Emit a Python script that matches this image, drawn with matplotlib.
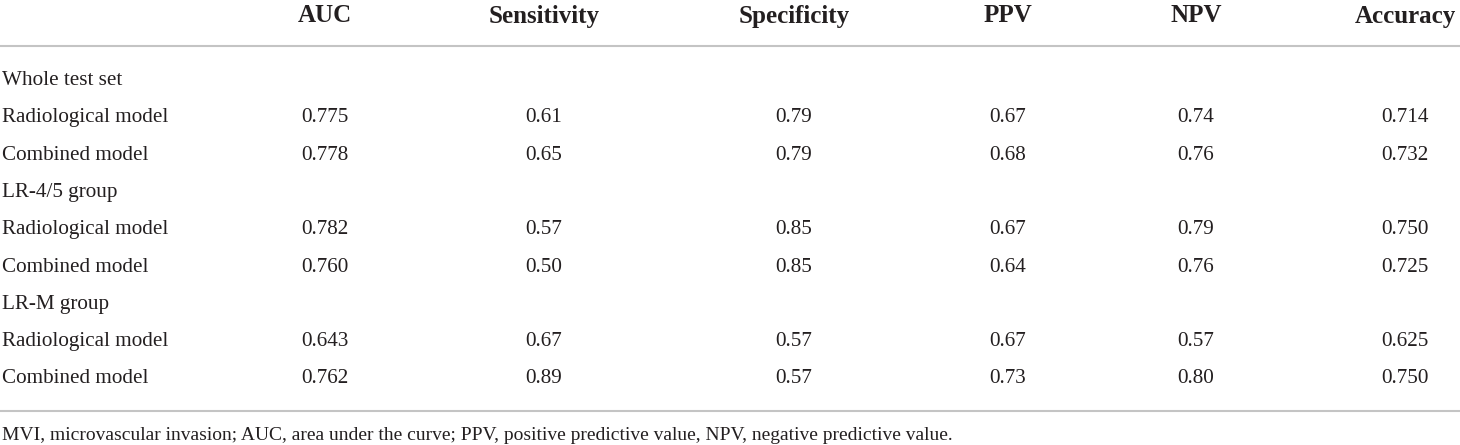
import matplotlib.pyplot as plt

# table content
columns = ["AUC", "Sensitivity", "Specificity", "PPV", "NPV", "Accuracy"]
row_labels = ["Whole test set", "Radiological model", "Combined model",
              "LR-4/5 group", "Radiological model", "Combined model",
              "LR-M group", "Radiological model", "Combined model"]
auc = ["", "0.775", "0.778", "", "0.782", "0.760", "", "0.643", "0.762"]
sensitivity = ["", "0.61", "0.65", "", "0.57", "0.50", "", "0.67", "0.89"]
specificity = ["", "0.79", "0.79", "", "0.85", "0.85", "", "0.57", "0.57"]
ppv = ["", "0.67", "0.68", "", "0.67", "0.64", "", "0.67", "0.73"]
npv = ["", "0.74", "0.76", "", "0.79", "0.76", "", "0.57", "0.80"]
accuracy = ["", "0.714", "0.732", "", "0.750", "0.725", "", "0.625", "0.750"]
footnote = ("MVI, microvascular invasion; AUC, area under the curve; "
            "PPV, positive predictive value, NPV, negative predictive value.")

# layout (pixel units of the 1460x445 canvas)
col_x = [325, 544, 794, 1008, 1196, 1405]
header_y = 13.5
row_y0 = 78
row_step = 37.3
text_color = "#231f20"
line_color = "#c4c4c4"

plt.rcParams["font.family"] = ["Liberation Serif", "DejaVu Serif"]

fig = plt.figure(figsize=(14.6, 4.45), dpi=100)
ax = fig.add_axes([0, 0, 1, 1])
ax.set_xlim(0, 1460)
ax.set_ylim(445, 0)
ax.axis("off")

# header
for x, name in zip(col_x, columns):
    ax.text(x, header_y, name, ha="center", va="center_baseline",
            fontsize=18, fontweight="bold", color=text_color)

ax.axhline(46, color=line_color, lw=1.5)

# body rows
values = [auc, sensitivity, specificity, ppv, npv, accuracy]
for i, label in enumerate(row_labels):
    y = row_y0 + i * row_step
    ax.text(2, y, label, ha="left", va="center_baseline", fontsize=15.2,
            color=text_color)
    for x, col in zip(col_x, values):
        if col[i]:
            ax.text(x, y, col[i], ha="center", va="center_baseline",
                    fontsize=15.2, color=text_color)

ax.axhline(411, color=line_color, lw=1.5)
ax.text(2, 433, footnote, ha="left", va="center_baseline", fontsize=14,
        color=text_color)

fig.savefig("out.png", dpi=100)
